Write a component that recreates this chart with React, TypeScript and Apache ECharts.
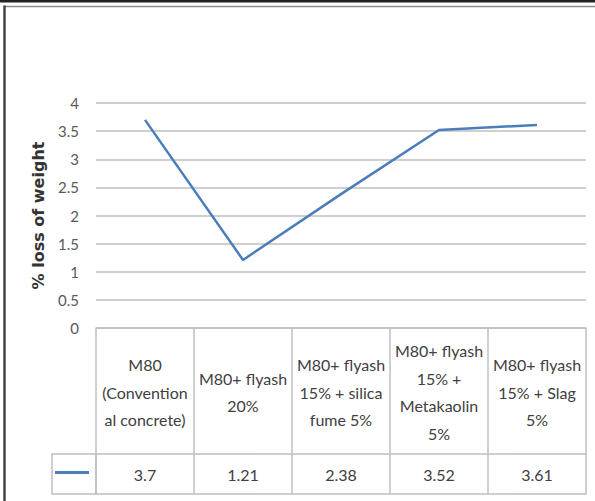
import React, { useEffect, useRef } from "react";
import * as echarts from "echarts";

// Mix designs (table header row) and the measured weight loss in %
const categories: string[] = [
  "M80\n(Convention\nal concrete)",
  "M80+ flyash\n20%",
  "M80+ flyash\n15% + silica\nfume 5%",
  "M80+ flyash\n15% +\nMetakaolin\n5%",
  "M80+ flyash\n15% + Slag\n5%",
];
const lossOfWeight: number[] = [3.7, 1.21, 2.38, 3.52, 3.61];
const valueLabels: string[] = ["3.7", "1.21", "2.38", "3.52", "3.61"];

const LINE_BLUE = "#4A7EBB";
const GRID_GRAY = "#bfbfbf";
const BODY_FONT = "Lato, 'Liberation Sans', sans-serif";

export default function App() {
  const ref = useRef<HTMLDivElement>(null);

  useEffect(() => {
    if (!ref.current) return;
    const chart = echarts.init(ref.current, undefined, { renderer: "svg" });
    chart.setOption({
      animation: false,
      backgroundColor: "#ffffff",
      grid: { left: 96, right: 9, top: 103, bottom: 173, containLabel: false },
      xAxis: [
        {
          // header row of the data table: category names between vertical rules
          type: "category",
          data: categories,
          position: "bottom",
          boundaryGap: true,
          axisLine: { show: true, lineStyle: { color: GRID_GRAY, width: 1.5 } },
          axisTick: {
            show: true,
            length: 166,
            inside: false,
            lineStyle: { color: GRID_GRAY, width: 1.5 },
          },
          axisLabel: {
            interval: 0,
            margin: 64,
            verticalAlign: "middle",
            align: "center",
            color: "#404040",
            fontFamily: BODY_FONT,
            fontSize: 16,
            lineHeight: 27.5,
          },
          splitLine: { show: false },
        },
        {
          // value row of the data table
          type: "category",
          data: categories,
          position: "bottom",
          offset: 126,
          axisLine: { show: true, lineStyle: { color: GRID_GRAY, width: 1.5 } },
          axisTick: { show: false },
          axisLabel: {
            interval: 0,
            margin: 20,
            verticalAlign: "middle",
            color: "#404040",
            fontFamily: BODY_FONT,
            fontSize: 16,
            formatter: (_v: string, i: number) => valueLabels[i],
          },
        },
        {
          // bottom rule of the data table
          type: "category",
          data: categories,
          position: "bottom",
          offset: 166,
          axisLine: { show: true, lineStyle: { color: GRID_GRAY, width: 1.5 } },
          axisTick: { show: false },
          axisLabel: { show: false },
        },
      ],
      yAxis: {
        type: "value",
        min: 0,
        max: 4,
        interval: 0.5,
        name: "% loss of weight",
        nameLocation: "middle",
        nameRotate: 90,
        nameGap: 50,
        nameTextStyle: {
          fontFamily: "'DejaVu Sans', sans-serif",
          fontWeight: "bold",
          fontSize: 16,
          color: "#333333",
        },
        axisLine: { show: false },
        axisTick: { show: false },
        axisLabel: {
          margin: 17,
          color: "#595959",
          fontFamily: BODY_FONT,
          fontSize: 15,
        },
        splitLine: { show: true, lineStyle: { color: GRID_GRAY, width: 1.5 } },
      },
      legend: {
        data: ["loss"],
        left: 55,
        top: 471,
        itemWidth: 34,
        itemHeight: 3,
        icon: "rect",
        formatter: () => "",
        itemGap: 0,
        padding: 0,
        textStyle: { fontSize: 1 },
      },
      series: [
        {
          name: "loss",
          type: "line",
          data: lossOfWeight,
          showSymbol: false,
          symbol: "none",
          lineStyle: { color: LINE_BLUE, width: 2.5 },
          itemStyle: { color: LINE_BLUE },
        },
      ],
      graphic: [
        // page frame
        { type: "rect", shape: { x: 0, y: 0, width: 595, height: 2.5 }, style: { fill: "#222222" } },
        { type: "line", shape: { x1: 4, y1: 6.5, x2: 595, y2: 6.5 }, style: { stroke: "#8a8a8a", lineWidth: 1.5 } },
        { type: "line", shape: { x1: 4.5, y1: 5.5, x2: 4.5, y2: 501 }, style: { stroke: "#444444", lineWidth: 2.5 } },
        // legend key cell of the data table
        {
          type: "rect",
          shape: { x: 52, y: 454, width: 44, height: 40 },
          style: { fill: "none", stroke: GRID_GRAY, lineWidth: 1.5 },
          z: 10,
        },
      ],
    });
    return () => chart.dispose();
  }, []);

  return (
    <div
      ref={ref}
      style={{ position: "fixed", left: 0, top: 0, width: 595, height: 501, background: "#fff" }}
    />
  );
}
